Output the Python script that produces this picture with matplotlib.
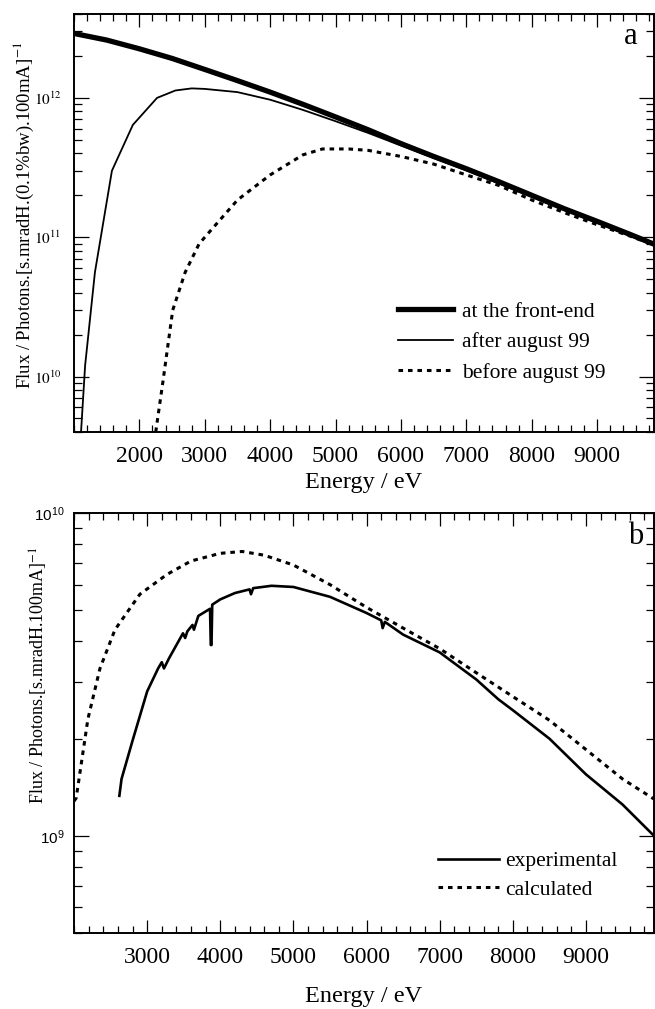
import numpy as np
import matplotlib
matplotlib.use('Agg')
import matplotlib.pyplot as plt
from matplotlib.ticker import LogLocator, MultipleLocator, NullFormatter

plt.rcParams['font.family'] = ['Liberation Serif', 'DejaVu Serif']
plt.rcParams['mathtext.fontset'] = 'custom'
plt.rcParams['mathtext.rm'] = 'Liberation Sans'
plt.rcParams['mathtext.it'] = 'Liberation Sans'

# ============ 数据 (a) ============
E_front = [1000, 1500, 2000, 2500, 3000, 3500, 4000, 4500, 5000, 5500,
           6000, 6500, 7000, 7500, 8000, 8500, 9000, 9500, 9900]
F_front = [2.9e12, 2.6e12, 2.25e12, 1.92e12, 1.6e12, 1.33e12, 1.1e12, 9.0e11, 7.3e11, 5.9e11,
           4.7e11, 3.8e11, 3.1e11, 2.5e11, 2.0e11, 1.6e11, 1.3e11, 1.05e11, 8.8e10]

E_after = [1100, 1170, 1320, 1580, 1900, 2270, 2550, 2800, 3000, 3500, 4000,
           4500, 5000, 5500, 6000, 6500, 7000, 8000, 9000, 9900]
F_after = [3.5e9, 1.2e10, 5.6e10, 3.0e11, 6.4e11, 1.0e12, 1.13e12, 1.17e12, 1.16e12, 1.1e12, 9.7e11,
           8.2e11, 6.8e11, 5.6e11, 4.55e11, 3.7e11, 3.02e11, 1.95e11, 1.27e11, 8.6e10]

E_before = [2250, 2360, 2510, 2700, 2910, 3000, 3500, 4000, 4500, 4800, 5200,
            5500, 6000, 6500, 7000, 7500, 8000, 8500, 9000, 9500, 9900]
F_before = [4.0e9, 9.2e9, 3.0e10, 5.6e10, 8.9e10, 1.0e11, 1.85e11, 2.8e11, 3.9e11, 4.3e11, 4.3e11,
            4.2e11, 3.8e11, 3.35e11, 2.8e11, 2.35e11, 1.85e11, 1.5e11, 1.23e11, 1.02e11, 8.7e10]

# ============ 数据 (b) ============
E_calc = [2000, 2030, 2190, 2355, 2560, 2900, 3270, 3600, 4000, 4300, 4600, 5000,
          5500, 6000, 6500, 7000, 7500, 8000, 8500, 9000, 9500, 9930]
F_calc = [1.28e9, 1.31e9, 2.3e9, 3.3e9, 4.35e9, 5.6e9, 6.45e9, 7.1e9, 7.5e9, 7.6e9, 7.4e9, 6.9e9,
          6.0e9, 5.1e9, 4.4e9, 3.8e9, 3.2e9, 2.7e9, 2.28e9, 1.85e9, 1.5e9, 1.3e9]

E_exp = [2620, 2650, 2800, 3000, 3150, 3200, 3230, 3300, 3490, 3520, 3550, 3620, 3640,
         3700, 3860, 3870, 3880, 3890, 4000, 4200, 4400, 4420, 4450, 4700, 5000, 5500,
         6000, 6200, 6220, 6250, 6500, 7000, 7500, 7800, 8000, 8500, 9000, 9500, 9930]
F_exp = [1.33e9, 1.5e9, 1.97e9, 2.8e9, 3.3e9, 3.45e9, 3.3e9, 3.55e9, 4.24e9, 4.1e9, 4.3e9, 4.5e9, 4.35e9,
         4.8e9, 5.05e9, 3.9e9, 3.9e9, 5.2e9, 5.4e9, 5.65e9, 5.8e9, 5.6e9, 5.85e9, 5.95e9, 5.9e9, 5.5e9,
         4.9e9, 4.65e9, 4.4e9, 4.6e9, 4.2e9, 3.7e9, 3.05e9, 2.65e9, 2.45e9, 2.0e9, 1.55e9, 1.25e9, 1.0e9]

dots = (0, (1.5, 1.6))

fig = plt.figure(figsize=(6.55, 10.09), dpi=100)
ax1 = fig.add_axes([74 / 655, 1 - 432 / 1009, 580 / 655, 418 / 1009])
ax2 = fig.add_axes([74 / 655, 1 - 933 / 1009, 580 / 655, 420 / 1009])


def style_axes(ax):
    ax.set_yscale('log')
    for s in ax.spines.values():
        s.set_linewidth(1.4)
    ax.xaxis.set_major_locator(MultipleLocator(1000))
    ax.xaxis.set_minor_locator(MultipleLocator(200))
    ax.yaxis.set_minor_locator(LogLocator(base=10, subs=np.arange(2, 10)))
    ax.yaxis.set_minor_formatter(NullFormatter())
    ax.tick_params(which='both', direction='in', top=True, right=True, width=0.9)
    ax.tick_params(axis='x', which='major', length=9.5, pad=10, labelsize=17)
    ax.tick_params(axis='x', which='minor', length=5)
    ax.tick_params(axis='y', which='major', length=11, pad=9)
    ax.tick_params(axis='y', which='minor', length=5.5)


# ============ 图 a ============
style_axes(ax1)
ax1.plot(E_front, F_front, 'k-', lw=3.8, label='at the front-end')
ax1.plot(E_after, F_after, 'k-', lw=1.3, label='after august 99')
ax1.plot(E_before, F_before, color='k', ls=dots, lw=2.2, label='before august 99')
ax1.set_xlim(1000, 9870)
ax1.set_ylim(4e9, 4e12)
ax1.set_xticks(np.arange(2000, 10000, 1000))
ax1.set_yticks([1e10, 1e11, 1e12])
ax1.set_yticklabels([r'$10^{10}$', r'$10^{11}$', r'$10^{12}$'], fontsize=11, math_fontfamily='stix')
ax1.set_xlabel('Energy / eV', fontsize=17.5, labelpad=4)
ax1.set_ylabel(r'Flux / Photons.[s.mradH.(0.1%bw).100mA]$^{-1}$', fontsize=13.5,
               math_fontfamily='stix')
ax1.yaxis.set_label_coords(-0.066, 0.517)
ax1.text(0.96, 0.945, 'a', transform=ax1.transAxes, fontsize=22, ha='center', va='center')
ax1.legend(loc='center left', bbox_to_anchor=(0.559, 0.215), frameon=False, fontsize=15.5,
           handlelength=2.55, handletextpad=0.4, labelspacing=0.48, borderpad=0, borderaxespad=0)

# ============ 图 b ============
style_axes(ax2)
ax2.plot(E_exp, F_exp, 'k-', lw=1.9, label='experimental')
ax2.plot(E_calc, F_calc, color='k', ls=dots, lw=2.2, label='calculated')
ax2.set_xlim(2000, 9930)
ax2.set_ylim(5e8, 1e10)
ax2.set_xticks(np.arange(3000, 10000, 1000))
ax2.set_yticks([1e9, 1e10])
ax2.set_yticklabels([r'$10^{9}$', r'$10^{10}$'], fontsize=11)
ax2.tick_params(axis='y', which='major', pad=7)
ax2.set_xlabel('Energy / eV', fontsize=17.5, labelpad=13)
ax2.set_ylabel(r'Flux / Photons.[s.mradH.100mA]$^{-1}$', fontsize=13, math_fontfamily='stix')
ax2.yaxis.set_label_coords(-0.041, 0.614)
ax2.text(0.968, 0.943, 'b', transform=ax2.transAxes, fontsize=22, ha='center', va='center')
ax2.legend(loc='center left', bbox_to_anchor=(0.628, 0.137), frameon=False, fontsize=15.5,
           handlelength=2.8, handletextpad=0.3, labelspacing=0.38, borderpad=0, borderaxespad=0)

fig.savefig('out.png', dpi=100)
